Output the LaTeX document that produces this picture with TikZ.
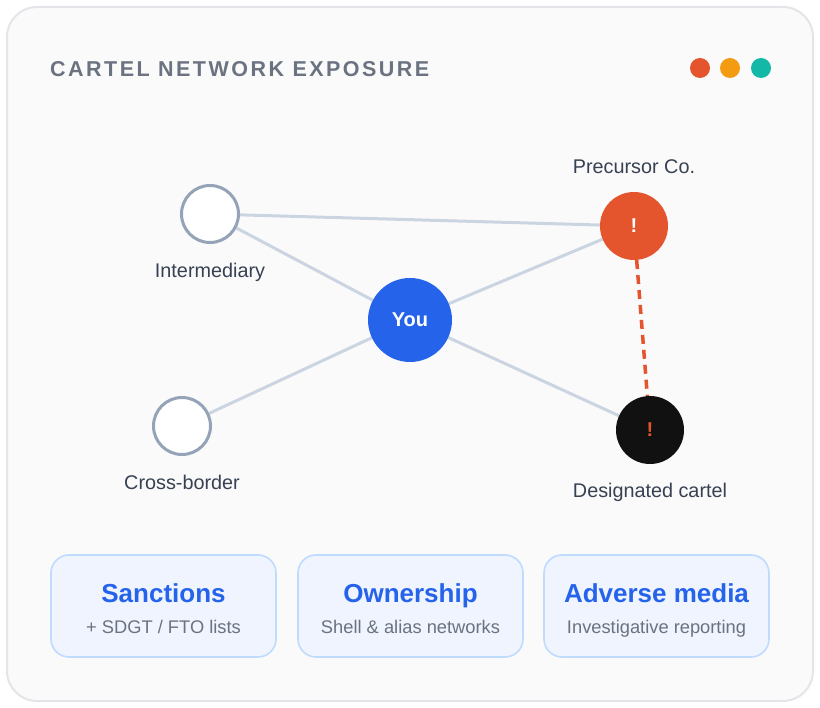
\documentclass[tikz,border=0pt]{standalone}
\usepackage{fontspec}
\setmainfont{Liberation Sans}
\usetikzlibrary{positioning}

\definecolor{cardfill}{HTML}{FAFAFB}
\definecolor{cardline}{HTML}{E3E5E9}
\definecolor{titlegray}{HTML}{6B7280}
\definecolor{dotred}{HTML}{E4552D}
\definecolor{dotamber}{HTML}{F39C12}
\definecolor{dotteal}{HTML}{14B8A6}
\definecolor{peerline}{HTML}{94A3B8}
\definecolor{edgegray}{HTML}{CBD5E1}
\definecolor{youblue}{HTML}{2563EB}
\definecolor{cartelblack}{HTML}{111111}
\definecolor{labelgray}{HTML}{374151}
\definecolor{pillfill}{HTML}{EFF4FE}
\definecolor{pillline}{HTML}{BFDBFE}

\pgfdeclarelayer{bg}
\pgfsetlayers{bg,main}

\begin{document}
\begin{tikzpicture}[x=1pt,y=-1pt,
  peer/.style={circle,draw=peerline,line width=3pt,fill=white,
    minimum size=57pt,inner sep=0pt},
  hub/.style={circle,fill=youblue,minimum size=84pt,inner sep=0pt,
    text=white,font=\fontsize{20}{24}\selectfont\bfseries},
  flag/.style={circle,minimum size=68pt,inner sep=0pt,
    font=\fontsize{20}{24}\selectfont\bfseries},
  tag/.style={anchor=base,text=labelgray,font=\fontsize{19.8}{23}\selectfont},
  tie/.style={draw=edgegray,line width=3pt},
  pill/.style={draw=pillline,fill=pillfill,line width=1.6pt,
    rounded corners=18pt,minimum width=225pt,minimum height=102pt},
  pilltitle/.style={anchor=base,text=youblue,font=\fontsize{26}{30}\selectfont\bfseries},
  pillsub/.style={anchor=base,text=titlegray,font=\fontsize{18.3}{22}\selectfont}]

\useasboundingbox (0,0) rectangle (820,708);

% header
\node[anchor=base west,inner sep=0pt,text=titlegray,
  font=\fontsize{21.5}{25}\selectfont\bfseries\addfontfeature{LetterSpace=11.5}]
  (title) at (50,76.5) {CARTEL NETWORK EXPOSURE};

\fill[dotred]   (700,68) circle (10);
\fill[dotamber] (730,68) circle (10);
\fill[dotteal]  (761,68) circle (10);

% network
\node[peer] (inter) at (210,214) {};
\node[peer] (cross) at (182,426) {};
\node[hub]  (you)   at (410,320) {You};
\node[flag,fill=dotred,text=white] (prec) at (634,226) {!};
\node[flag,fill=cartelblack,text=dotred] (cartel) at (650,430) {!};

\node[tag] (interlbl)  at (210,278) {Intermediary};
\node[tag] (crosslbl)  at (182,490) {Cross-border};
\node[tag] (preclbl)   at (634,174) {Precursor Co.};
\node[tag] (cartellbl) at (650,498) {Designated cartel};

\begin{pgfonlayer}{bg}
\draw[draw=cardline,fill=cardfill,line width=2pt,rounded corners=30pt]
  (7,7) rectangle (813,701);

\draw[tie] (inter) -- (prec);
\draw[tie] (inter) -- (you);
\draw[tie] (cross) -- (you);
\draw[tie] (you) -- (prec);
\draw[tie] (you) -- (cartel);
\draw[draw=dotred,line width=3.5pt,dash pattern=on 9pt off 6pt]
  (prec) -- (cartel);
\end{pgfonlayer}

% sources
\node[pill] (sanbox) at (163.5,606) {};
\node[pilltitle] (santitle) at (163.5,602) {Sanctions};
\node[pillsub]   (sansub)   at (163.5,633) {+ SDGT / FTO lists};

\node[pill] (ownbox) at (410.5,606) {};
\node[pilltitle] (owntitle) at (410.5,602) {Ownership};
\node[pillsub]   (ownsub)   at (410.5,633) {Shell \& alias networks};

\node[pill] (medbox) at (656.5,606) {};
\node[pilltitle] (medtitle) at (656.5,602) {Adverse media};
\node[pillsub]   (medsub)   at (656.5,633) {Investigative reporting};

\end{tikzpicture}
\end{document}
